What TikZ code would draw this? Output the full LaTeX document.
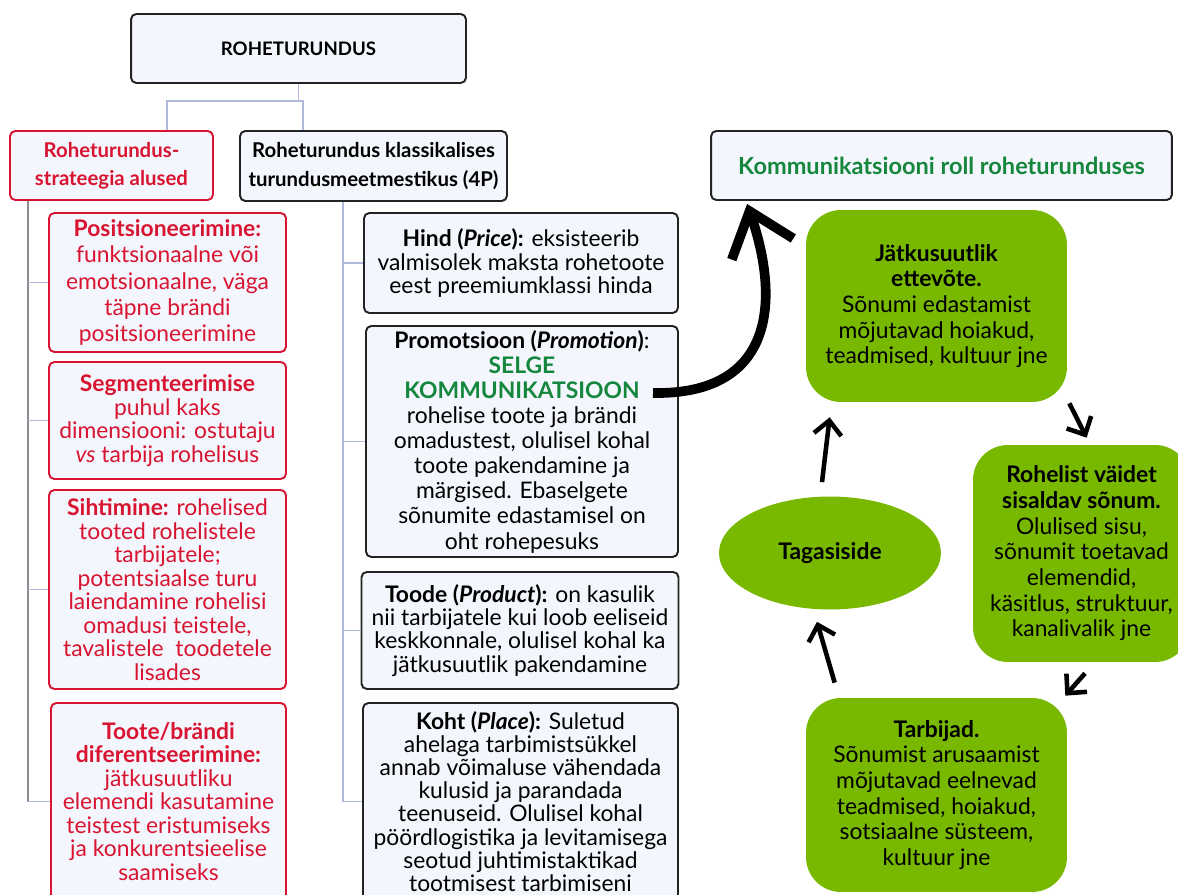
\documentclass[tikz,border=0pt]{standalone}
\usepackage{fontspec}
\setmainfont{Lato}
\usetikzlibrary{arrows.meta,shapes.geometric}

\definecolor{rmred}{RGB}{216,20,48}
\definecolor{rmgreen}{RGB}{120,185,0}
\definecolor{txtgreen}{RGB}{20,135,60}
\definecolor{boxfill}{RGB}{244,246,254}
\definecolor{boxline}{RGB}{35,35,35}
\definecolor{treeline}{RGB}{175,185,220}
\definecolor{treegray}{RGB}{140,140,148}

\newcommand{\topfont}{\fontsize{10.6}{13}\selectfont\bfseries}
\newcommand{\headfont}{\fontsize{11.6}{16}\selectfont\bfseries}
\newcommand{\leftfont}{\fontsize{13}{13.4}\selectfont}
\newcommand{\midfont}{\fontsize{13}{13.2}\selectfont}
\newcommand{\greenfont}{\fontsize{13}{14.6}\selectfont}

\begin{document}
\begin{tikzpicture}[x=0.02cm, y=-0.02cm,
  box/.style={draw=boxline, fill=boxfill, text=black, rounded corners=3pt,
    line width=1.1pt, align=center, inner sep=0pt},
  redbox/.style={box, draw=rmred, text=rmred},
  greenbox/.style={fill=rmgreen, rounded corners=0.7cm, align=center, inner sep=0pt},
  tree/.style={draw=treeline, line width=0.8pt},
  cyc/.style={line width=2.6pt, -{Straight Barb[length=2.8mm,width=5.5mm]}},
  bigarrow/.style={line width=5.5pt, -{Straight Barb[length=8mm,width=13mm]}}]

 \clip (0,0) rectangle (1178,895);

 % headers
 \node[box, minimum width=6.7cm, minimum height=1.38cm, font=\topfont] (top) at (298.5,48.5)
   {ROHETURUNDUS};
 \node[redbox, minimum width=4.06cm, minimum height=1.38cm, font=\headfont] (lhead) at (111.5,165.5)
   {Roheturundus-\\strateegia alused};
 \node[box, minimum width=5.34cm, minimum height=1.4cm, font=\headfont] (mhead) at (373.5,166)
   {Roheturundus klassikalises\\turundusmeetmestikus (4P)};
 \node[box, minimum width=9.22cm, minimum height=1.38cm, text=txtgreen, font=\fontsize{13.4}{16}\selectfont\bfseries] (rhead) at (941.5,165.5)
   {Kommunikatsiooni roll roheturunduses};

 %left column
 \node[redbox, minimum width=4.74cm, minimum height=2.78cm, font=\fontsize{13}{15}\selectfont] (L1) at (167.5,282.5)
   {\textbf{Positsioneerimine:}\\funktsionaalne või\\emotsionaalne, väga\\täpne brändi\\positsioneerimine};
 \node[redbox, minimum width=4.74cm, minimum height=2.34cm, font=\leftfont] (L2) at (167.5,420.5)
   {\textbf{Segmenteerimise}\\puhul kaks\\dimensiooni: ostutaju\\\textit{vs} tarbija rohelisus};
 \node[redbox, minimum width=4.74cm, minimum height=3.98cm, font=\leftfont] (L3) at (167.5,589.5)
   {\textbf{Sihtimine:} rohelised\\tooted rohelistele\\tarbijatele;\\potentsiaalse turu\\laiendamine rohelisi\\omadusi teistele,\\tavalistele~ toodetele\\lisades};
 \node[redbox, minimum width=4.7cm, minimum height=3.94cm, font=\leftfont] (L4) at (168.5,801.5)
   {\textbf{Toote/brändi}\\\textbf{diferentseerimine:}\\jätkusuutliku\\elemendi kasutamine\\teistest eristumiseks\\ja konkurentsieelise\\saamiseks};

 %middle column
 \node[box, minimum width=6.28cm, minimum height=2.0cm, font=\midfont] (M1) at (521,263)
   {\textbf{Hind (\textit{Price}):} eksisteerib\\valmisolek maksta rohetoote\\eest preemiumklassi hinda};
 \node[box, minimum width=6.24cm, minimum height=4.62cm, font=\fontsize{13}{14.3}\selectfont] (M2) at (522,441.5)
   {\textbf{Promotsioon (\textit{Promotion})}:\\
    \textcolor{txtgreen}{\bfseries SELGE}\\\textcolor{txtgreen}{\bfseries KOMMUNIKATSIOON}\\
    rohelise toote ja brändi\\omadustest, olulisel kohal\\toote pakendamine ja\\märgised. Ebaselgete\\sõnumite edastamisel on\\oht rohepesuks};
 \node[box, minimum width=6.34cm, minimum height=2.34cm, font=\midfont] (M3) at (520,630.5)
   {\textbf{Toode (\textit{Product}):} on kasulik\\nii tarbijatele kui loob eeliseid\\keskkonnale, olulisel kohal ka\\jätkusuutlik pakendamine};
 \node[box, minimum width=6.3cm, minimum height=3.94cm, font=\midfont] (M4) at (520.5,801.5)
   {\textbf{Koht (\textit{Place}):} Suletud\\ahelaga tarbimistsükkel\\annab võimaluse vähendada\\kulusid ja parandada\\teenuseid. Olulisel kohal\\pöördlogistika ja levitamisega\\seotud juhtimistaktikad\\tootmisest tarbimiseni};

 % tree lines
 \coordinate (fork) at (298.5,101);
 \draw[tree] (top.south) -- (fork);
 \draw[tree] (167,0 |- lhead.north) |- (fork) -| (303,0 |- mhead.north);
 \draw[draw=treegray, line width=0.9pt] (28,0 |- lhead.south) -- (28,0 |- L4.west);
 \foreach \nm in {L1,L2,L3,L4}
   \draw[tree] (28,0 |- \nm.west) -- (\nm.west);
 \draw[tree] (343,0 |- mhead.south) -- (343,0 |- M4.west);
 \foreach \nm in {M1,M2,M3,M4}
   \draw[tree] (343,0 |- \nm.west) -- (\nm.west);

 % communication cycle
 \node[greenbox, minimum width=5.22cm, minimum height=3.84cm, font=\greenfont] (G1) at (936.5,306)
   {\textbf{Jätkusuutlik}\\\textbf{ettevõte.}\\Sõnumi edastamist\\mõjutavad hoiakud,\\teadmised, kultuur jne};
 \node[greenbox, minimum width=4.34cm, minimum height=4.34cm, font=\greenfont] (G2) at (1081.5,553.5)
   {\textbf{Rohelist väidet}\\\textbf{sisaldav sõnum.}\\Olulised sisu,\\sõnumit toetavad\\elemendid,\\käsitlus, struktuur,\\kanalivalik jne};
 \node[greenbox, minimum width=5.22cm, minimum height=3.88cm, font=\greenfont] (G3) at (936.5,795)
   {\textbf{Tarbijad.}\\Sõnumist arusaamist\\mõjutavad eelnevad\\teadmised, hoiakud,\\sotsiaalne süsteem,\\kultuur jne};
 \node[ellipse, fill=rmgreen, minimum width=4.44cm, minimum height=2.26cm, inner sep=0pt, font=\greenfont\bfseries] (T) at (830,553)
   {Tagasiside};

 \draw[cyc] ([shift={(0.04cm,-0.02cm)}]G1.south east) -- ([shift={(2.28cm,0.14cm)}]G2.north west);
 \draw[cyc] ([shift={(0.07cm,-0.22cm)}]G2.south) -- ([shift={(-0.04cm,0.04cm)}]G3.north east);
 \draw[cyc] ([shift={(0.58cm,0.30cm)}]G3.north west) -- ([shift={(-0.26cm,-0.24cm)}]T.south);
 \draw[cyc] ([shift={(-0.16cm,0.28cm)}]T.north) -- ([shift={(0.48cm,-0.30cm)}]G1.south west);

 % big arrow
 \coordinate (kstart) at (653,393);
 \draw[bigarrow] (kstart) .. controls (775,395) and (780,300) .. ([shift={(0.74cm,-0.06cm)}]rhead.south west);

\end{tikzpicture}
\end{document}
